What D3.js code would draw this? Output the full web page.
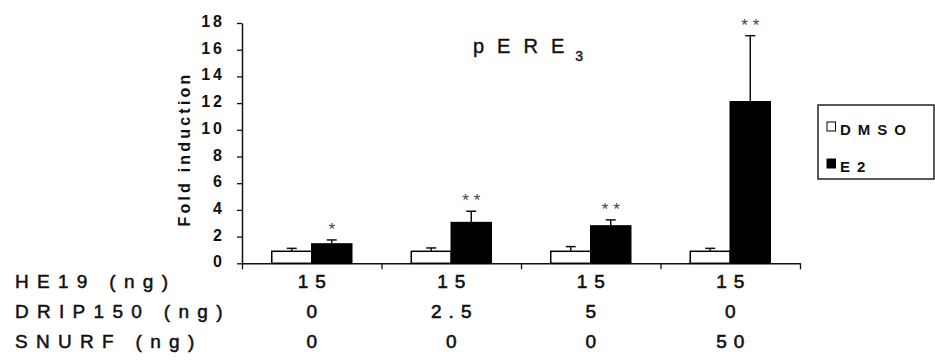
<!DOCTYPE html>
<html>
<head>
<meta charset="utf-8">
<script src="https://cdn.jsdelivr.net/npm/d3@7"></script>
<style>
  html, body { margin: 0; padding: 0; background: #fff; }
  svg { display: block; font-family: "Liberation Sans", Arial, sans-serif; }
</style>
</head>
<body>
<svg id="chart" width="935" height="360"></svg>
<script>
// Conditions (amounts transfected per well) shown under each bar pair
const conditions = ["A", "B", "C", "D"];
const he19 = ["15", "15", "15", "15"];
const drip150 = ["0", "2.5", "5", "0"];
const snurf = ["0", "0", "0", "50"];
const rowLabels = ["HE19 (ng)", "DRIP150 (ng)", "SNURF (ng)"];

// Fold induction (mean and upper error) for each treatment
const series = ["DMSO", "E2"];
const dmso = [0.9, 0.9, 0.9, 0.9];
const dmsoErr = [0.22, 0.25, 0.35, 0.22];
const e2 = [1.45, 3.05, 2.8, 12.1];
const e2Err = [0.3, 0.85, 0.45, 4.95];
const signif = ["*", "**", "**", "**"];

const yTicks = [0, 2, 4, 6, 8, 10, 12, 14, 16, 18];
const legendLabels = ["DMSO", "E2"];

const svg = d3.select("#chart");
const ink = "#111";

const plotLeft = 242, plotRight = 800, plotTop = 23, plotBottom = 263.3;

const x = d3.scaleBand().domain(conditions).range([plotLeft, plotRight]).paddingInner(0).paddingOuter(0);
const xs = d3.scaleBand().domain(series).range([0, x.bandwidth()]).paddingInner(0).paddingOuter(0.744);
const y = d3.scaleLinear().domain([0, 18]).range([plotBottom, plotTop]);
const xEdge = d3.scaleLinear().domain([0, conditions.length]).range([plotLeft, plotRight]);

// Y axis
const yAxis = svg.append("g")
  .attr("transform", `translate(${plotLeft},0)`)
  .call(d3.axisLeft(y).tickValues(yTicks).tickSize(5).tickSizeOuter(0).tickPadding(12));
yAxis.select(".domain").attr("stroke", ink).attr("stroke-width", 1.5);
yAxis.selectAll(".tick line").attr("stroke", ink).attr("stroke-width", 1.3);
yAxis.selectAll(".tick text")
  .attr("fill", ink)
  .attr("dy", "0.22em")
  .style("font-size", "16px")
  .style("font-weight", "bold")
  .style("letter-spacing", "3px")
  .style("font-family", "'Liberation Sans', Arial, sans-serif");

// X axis with separators between groups
const xAxis = svg.append("g")
  .attr("transform", `translate(0,${plotBottom})`)
  .call(d3.axisBottom(xEdge).tickValues(d3.range(conditions.length + 1)).tickSize(6).tickSizeOuter(0).tickFormat(""));
xAxis.select(".domain").attr("stroke", ink).attr("stroke-width", 1.5);
xAxis.selectAll(".tick line").attr("stroke", ink).attr("stroke-width", 1.3);

// Y axis title
svg.append("text")
  .attr("transform", `translate(190,${(76 + 222) / 2}) rotate(-90)`)
  .attr("text-anchor", "middle")
  .style("font-size", "16px")
  .style("font-weight", "bold")
  .style("letter-spacing", "3.2px")
  .attr("fill", ink)
  .text("Fold induction");

// Bars
const rows = conditions.map((c, i) => ({
  c, i,
  vals: [
    { s: "DMSO", v: dmso[i], e: dmsoErr[i] },
    { s: "E2", v: e2[i], e: e2Err[i] }
  ]
}));

const groups = svg.append("g").selectAll("g")
  .data(rows).join("g")
  .attr("transform", d => `translate(${x(d.c)},0)`);

groups.selectAll("rect")
  .data(d => d.vals).join("rect")
  .attr("x", d => xs(d.s))
  .attr("width", xs.bandwidth())
  .attr("y", d => y(d.v))
  .attr("height", d => y(0) - y(d.v))
  .attr("fill", d => d.s === "DMSO" ? "#fff" : "#000")
  .attr("stroke", "#000")
  .attr("stroke-width", 1.5);

// Upper error bars
const capW = 10;
const err = groups.selectAll("g.err")
  .data(d => d.vals).join("g").attr("class", "err");
err.append("line")
  .attr("x1", d => xs(d.s) + xs.bandwidth() / 2)
  .attr("x2", d => xs(d.s) + xs.bandwidth() / 2)
  .attr("y1", d => y(d.v))
  .attr("y2", d => y(d.v + d.e))
  .attr("stroke", ink).attr("stroke-width", 1.5);
err.append("line")
  .attr("x1", d => xs(d.s) + xs.bandwidth() / 2 - capW / 2)
  .attr("x2", d => xs(d.s) + xs.bandwidth() / 2 + capW / 2)
  .attr("y1", d => y(d.v + d.e))
  .attr("y2", d => y(d.v + d.e))
  .attr("stroke", ink).attr("stroke-width", 1.5);

// Significance marks over the E2 bars
groups.append("text")
  .attr("x", d => xs("E2") + xs.bandwidth() / 2 + (signif[d.i].length > 1 ? 2.5 : 0))
  .attr("y", d => y(e2[d.i] + e2Err[d.i]) - 5)
  .attr("text-anchor", "middle")
  .style("font-size", "17px")
  .style("letter-spacing", d => signif[d.i].length > 1 ? "5px" : "0px")
  .attr("fill", "#444")
  .text(d => signif[d.i]);

// Title
const title = svg.append("text")
  .attr("x", 473).attr("y", 53)
  .style("font-size", "20px")
  .style("letter-spacing", "13px")
  .attr("fill", ink)
  .attr("stroke", ink).attr("stroke-width", 0.4);
title.append("tspan").text("pERE");
title.append("tspan").attr("dx", -2).attr("dy", 8).style("font-size", "14px").text("3");

// Legend
const lg = svg.append("g");
lg.append("rect")
  .attr("x", 818).attr("y", 105).attr("width", 116).attr("height", 74)
  .attr("fill", "#fff").attr("stroke", "#222").attr("stroke-width", 1.5);
const lgItems = lg.selectAll("g.item").data(legendLabels).join("g").attr("class", "item")
  .attr("transform", (d, i) => `translate(827,${[122, 159][i]})`);
lgItems.append("rect")
  .attr("width", 8.5).attr("height", 9)
  .attr("fill", (d, i) => i === 0 ? "#fff" : "#000")
  .attr("stroke", "#000").attr("stroke-width", 1);
lgItems.append("text")
  .attr("x", 13).attr("y", 13)
  .style("font-size", "15px")
  .style("font-weight", "bold")
  .style("letter-spacing", "7px")
  .attr("fill", ink)
  .text(d => d);

// Table of transfected amounts below the axis
const tableRows = [he19, drip150, snurf];
const rowY = [288, 318, 348];
tableRows.forEach((vals, r) => {
  svg.append("text")
    .attr("x", 15).attr("y", rowY[r])
    .style("font-size", "19px")
    .style("letter-spacing", "8.3px")
    .attr("fill", ink)
    .attr("stroke", ink).attr("stroke-width", 0.5)
    .text(rowLabels[r]);
  svg.append("g").selectAll("text")
    .data(vals).join("text")
    .attr("x", (d, i) => x(conditions[i]) + x.bandwidth() / 2 + 3.5)
    .attr("y", rowY[r])
    .attr("text-anchor", "middle")
    .style("font-size", "19px")
    .style("letter-spacing", "7px")
    .attr("fill", ink)
    .attr("stroke", ink).attr("stroke-width", 0.6)
    .text(d => d);
});
</script>
</body>
</html>
